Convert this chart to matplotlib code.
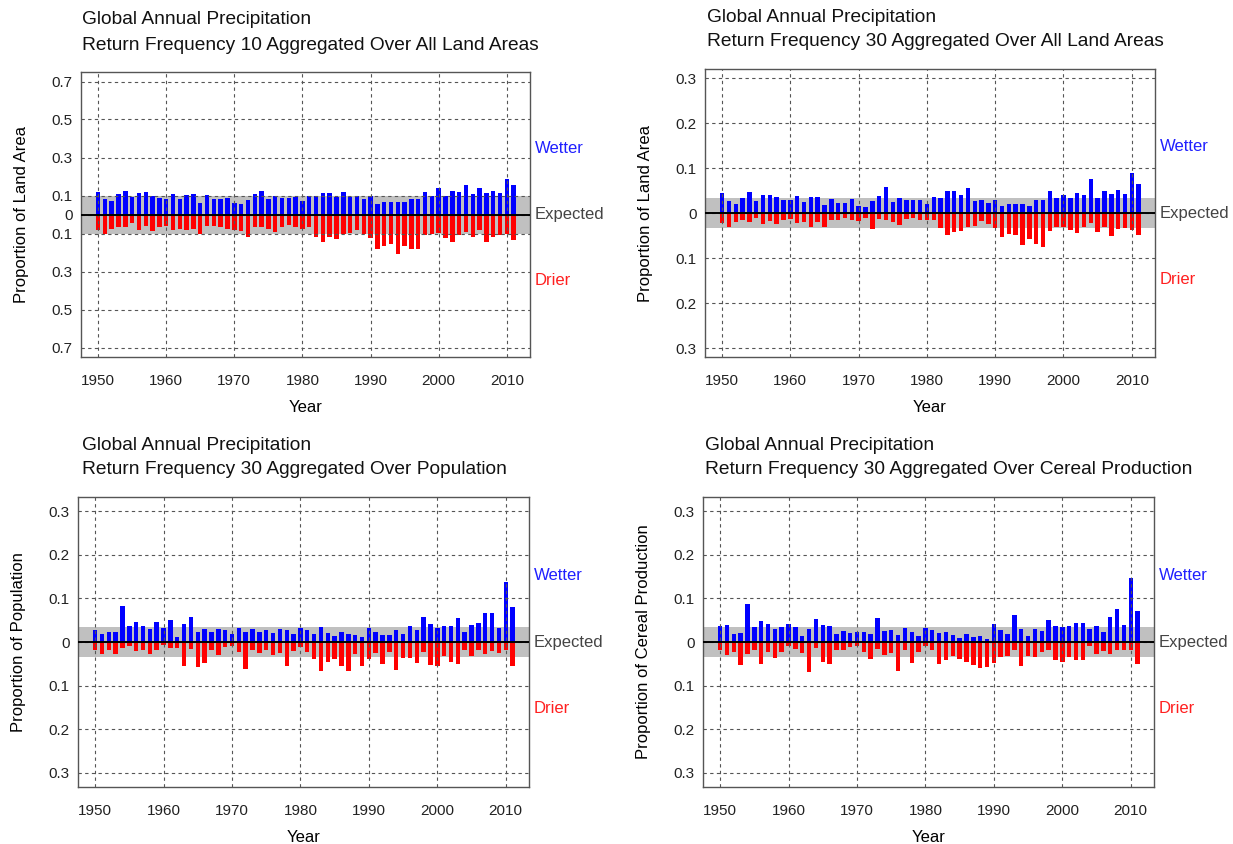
import matplotlib
matplotlib.use('Agg')
import matplotlib.pyplot as plt
import numpy as np

plt.rcParams['font.family'] = ['Liberation Sans', 'DejaVu Sans']

years = np.arange(1950, 2012)

# Return frequency 10, all land areas
land10_wet = [0.121, 0.079, 0.070, 0.110, 0.125, 0.093, 0.114, 0.118, 0.098, 0.089,
              0.084, 0.107, 0.082, 0.105, 0.110, 0.061, 0.102, 0.081, 0.079, 0.088,
              0.060, 0.053, 0.077, 0.110, 0.125, 0.081, 0.098, 0.088, 0.089, 0.093,
              0.070, 0.098, 0.098, 0.114, 0.114, 0.093, 0.121, 0.093, 0.098, 0.082,
              0.098, 0.054, 0.065, 0.067, 0.068, 0.065, 0.082, 0.081, 0.119, 0.098,
              0.142, 0.100, 0.125, 0.118, 0.154, 0.109, 0.137, 0.114, 0.125, 0.114,
              0.186, 0.156]
land10_dry = [0.082, 0.105, 0.074, 0.065, 0.068, 0.047, 0.079, 0.061, 0.086, 0.068,
              0.058, 0.082, 0.074, 0.082, 0.074, 0.104, 0.061, 0.060, 0.068, 0.077,
              0.079, 0.088, 0.118, 0.065, 0.065, 0.074, 0.091, 0.065, 0.056, 0.065,
              0.074, 0.065, 0.118, 0.144, 0.118, 0.130, 0.100, 0.095, 0.079, 0.100,
              0.123, 0.181, 0.167, 0.153, 0.209, 0.167, 0.181, 0.181, 0.109, 0.100,
              0.096, 0.126, 0.144, 0.109, 0.091, 0.118, 0.082, 0.144, 0.118, 0.109,
              0.100, 0.132]

# Return frequency 30, all land areas
land30_wet = [0.045, 0.026, 0.021, 0.034, 0.046, 0.027, 0.039, 0.041, 0.036, 0.028,
              0.028, 0.038, 0.024, 0.036, 0.036, 0.018, 0.031, 0.022, 0.022, 0.032,
              0.016, 0.013, 0.027, 0.037, 0.058, 0.024, 0.034, 0.029, 0.029, 0.029,
              0.020, 0.035, 0.033, 0.050, 0.050, 0.039, 0.055, 0.026, 0.028, 0.022,
              0.028, 0.016, 0.021, 0.020, 0.021, 0.016, 0.028, 0.028, 0.048, 0.034,
              0.041, 0.033, 0.044, 0.039, 0.075, 0.033, 0.050, 0.042, 0.052, 0.042,
              0.089, 0.065]
land30_dry = [0.022, 0.032, 0.020, 0.016, 0.020, 0.010, 0.024, 0.017, 0.024, 0.016,
              0.013, 0.023, 0.019, 0.030, 0.019, 0.030, 0.016, 0.016, 0.011, 0.016,
              0.017, 0.011, 0.036, 0.013, 0.015, 0.019, 0.026, 0.013, 0.011, 0.015,
              0.015, 0.015, 0.033, 0.048, 0.042, 0.041, 0.030, 0.028, 0.017, 0.024,
              0.033, 0.053, 0.046, 0.048, 0.072, 0.057, 0.068, 0.076, 0.041, 0.031,
              0.030, 0.037, 0.044, 0.030, 0.022, 0.042, 0.031, 0.050, 0.035, 0.033,
              0.037, 0.048]

# Return frequency 30, population
pop30_wet = [0.027, 0.019, 0.022, 0.023, 0.083, 0.037, 0.045, 0.036, 0.031, 0.045,
             0.033, 0.051, 0.011, 0.041, 0.058, 0.022, 0.031, 0.022, 0.030, 0.028,
             0.019, 0.033, 0.024, 0.030, 0.024, 0.027, 0.020, 0.030, 0.028, 0.019,
             0.032, 0.027, 0.019, 0.034, 0.020, 0.013, 0.024, 0.019, 0.017, 0.011,
             0.032, 0.022, 0.016, 0.017, 0.027, 0.018, 0.037, 0.027, 0.057, 0.041,
             0.033, 0.036, 0.036, 0.054, 0.024, 0.040, 0.044, 0.067, 0.067, 0.033,
             0.138, 0.081]
pop30_dry = [0.019, 0.027, 0.019, 0.027, 0.014, 0.010, 0.021, 0.018, 0.027, 0.019,
             0.008, 0.014, 0.014, 0.054, 0.015, 0.058, 0.048, 0.019, 0.029, 0.011,
             0.010, 0.022, 0.062, 0.019, 0.025, 0.019, 0.029, 0.025, 0.056, 0.021,
             0.011, 0.023, 0.039, 0.066, 0.047, 0.039, 0.054, 0.067, 0.027, 0.054,
             0.040, 0.025, 0.050, 0.024, 0.065, 0.037, 0.037, 0.048, 0.024, 0.052,
             0.054, 0.033, 0.047, 0.050, 0.018, 0.033, 0.018, 0.027, 0.021, 0.025,
             0.018, 0.056]

# Return frequency 30, cereal production
cer30_wet = [0.036, 0.039, 0.018, 0.020, 0.088, 0.034, 0.048, 0.041, 0.030, 0.035,
             0.042, 0.035, 0.014, 0.031, 0.053, 0.038, 0.037, 0.019, 0.025, 0.020,
             0.023, 0.024, 0.019, 0.056, 0.026, 0.027, 0.015, 0.033, 0.022, 0.013,
             0.032, 0.027, 0.020, 0.024, 0.017, 0.009, 0.019, 0.011, 0.013, 0.007,
             0.042, 0.027, 0.018, 0.061, 0.030, 0.014, 0.030, 0.026, 0.051, 0.036,
             0.034, 0.036, 0.043, 0.044, 0.031, 0.036, 0.023, 0.058, 0.075, 0.039,
             0.148, 0.071]
cer30_dry = [0.018, 0.029, 0.024, 0.053, 0.027, 0.019, 0.050, 0.024, 0.037, 0.024,
             0.010, 0.016, 0.025, 0.069, 0.014, 0.046, 0.050, 0.019, 0.019, 0.011,
             0.010, 0.023, 0.040, 0.016, 0.031, 0.025, 0.067, 0.019, 0.048, 0.023,
             0.010, 0.019, 0.050, 0.042, 0.033, 0.039, 0.047, 0.053, 0.060, 0.057,
             0.048, 0.034, 0.033, 0.019, 0.054, 0.033, 0.034, 0.024, 0.019, 0.042,
             0.047, 0.034, 0.042, 0.042, 0.010, 0.027, 0.021, 0.027, 0.019, 0.019,
             0.019, 0.050]

W, H = 1233, 844


def px_rect(left, right, top, bottom):
    return [left / W, 1 - bottom / H, (right - left) / W, (bottom - top) / H]


panels = [
    dict(wet=land10_wet, dry=land10_dry, band=0.1, lim=0.75,
         yticks=[-0.7, -0.5, -0.3, -0.1, 0, 0.1, 0.3, 0.5, 0.7],
         ylabel='Proportion of Land Area',
         title=['Global Annual Precipitation',
                'Return Frequency 10 Aggregated Over All Land Areas'],
         box=(81, 530, 72, 357), tx=82),
    dict(wet=land30_wet, dry=land30_dry, band=1 / 30, lim=0.32,
         yticks=[-0.3, -0.2, -0.1, 0, 0.1, 0.2, 0.3],
         ylabel='Proportion of Land Area',
         title=['Global Annual Precipitation',
                'Return Frequency 30 Aggregated Over All Land Areas'],
         box=(705, 1155, 69, 357), tx=707),
    dict(wet=pop30_wet, dry=pop30_dry, band=1 / 30, lim=0.333,
         yticks=[-0.3, -0.2, -0.1, 0, 0.1, 0.2, 0.3],
         ylabel='Proportion of Population',
         title=['Global Annual Precipitation',
                'Return Frequency 30 Aggregated Over Population'],
         box=(78, 529, 497, 787), tx=82),
    dict(wet=cer30_wet, dry=cer30_dry, band=1 / 30, lim=0.333,
         yticks=[-0.3, -0.2, -0.1, 0, 0.1, 0.2, 0.3],
         ylabel='Proportion of Cereal Production',
         title=['Global Annual Precipitation',
                'Return Frequency 30 Aggregated Over Cereal Production'],
         box=(703, 1154, 497, 787), tx=705),
]

fig = plt.figure(figsize=(W / 100, H / 100), dpi=100)

for p in panels:
    ax = fig.add_axes(px_rect(*p['box']))
    ax.axhspan(-p['band'], p['band'], color='#c0c0c0', zorder=0, lw=0)
    ax.bar(years, p['wet'], width=0.65, color='#0000ff', zorder=2)
    ax.bar(years, [-v for v in p['dry']], width=0.65, color='#ff0000', zorder=2)
    ax.axhline(0, color='black', lw=1.4, zorder=3)

    ax.set_xlim(1947.5, 2013.4)
    ax.set_ylim(-p['lim'], p['lim'])
    ax.set_xticks(np.arange(1950, 2011, 10))
    ax.set_yticks(p['yticks'])
    ax.set_yticklabels(['0' if t == 0 else f'{abs(t):g}' for t in p['yticks']])
    ax.tick_params(length=0, labelsize=11, colors='#222222')
    ax.tick_params(axis='x', pad=12)
    ax.tick_params(axis='y', pad=6)
    ax.grid(True, linestyle=(0, (3, 3)), color='#555555', lw=0.8, zorder=1)
    ax.set_axisbelow(False)
    for s in ax.spines.values():
        s.set_color('#555555')
        s.set_linewidth(1.0)

    ax.set_xlabel('Year', fontsize=12, labelpad=9)
    ax.set_ylabel(p['ylabel'], fontsize=12, labelpad=16)

    ax.text(1.011, 0.73, 'Wetter', transform=ax.transAxes, color='#2020ff',
            fontsize=12, va='center', ha='left')
    ax.text(1.011, 0.5, 'Expected', transform=ax.transAxes, color='#444444',
            fontsize=12, va='center', ha='left')
    ax.text(1.011, 0.27, 'Drier', transform=ax.transAxes, color='#ff2020',
            fontsize=12, va='center', ha='left')

    top = p['box'][2]
    fig.text(p['tx'] / W, 1 - (top - 52) / H, p['title'][0], fontsize=13.8,
             ha='left', va='center', color='#111111')
    fig.text(p['tx'] / W, 1 - (top - 27) / H, p['title'][1], fontsize=13.8,
             ha='left', va='center', color='#111111')

fig.savefig('out.png', dpi=100)
